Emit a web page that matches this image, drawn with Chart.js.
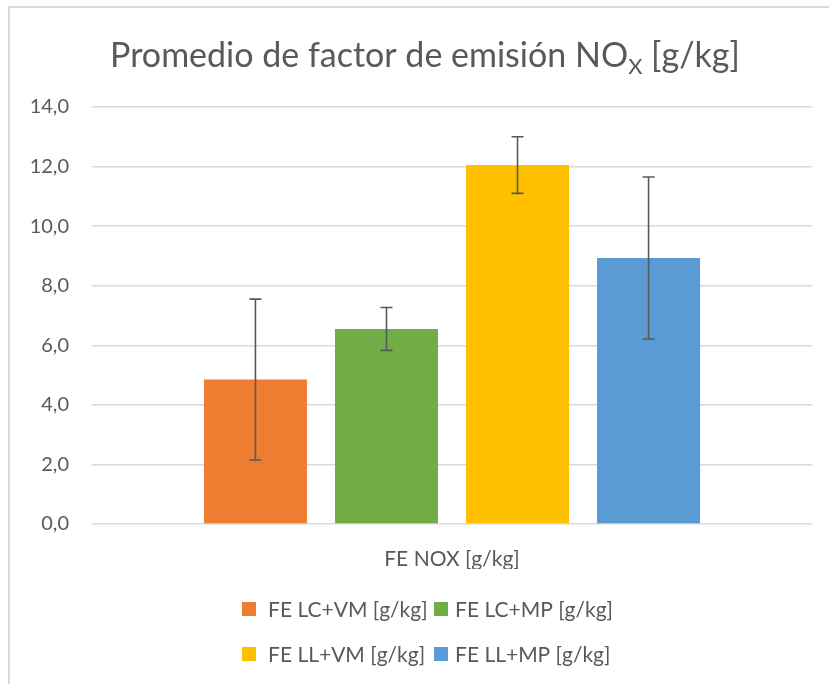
<!DOCTYPE html>
<html>
<head>
<meta charset="utf-8">
<script src="https://cdn.jsdelivr.net/npm/chart.js@4.4.0/dist/chart.umd.min.js"></script>
<style>
  html, body { margin: 0; padding: 0; background: #fff; overflow: hidden; }
  .frame { position: absolute; left: 8px; top: 6px; width: 900px; height: 800px; border: 2px solid #d9d9d9; }
  .wrap { position: absolute; left: 0; top: 0; width: 829px; height: 684px; }
</style>
</head>
<body>
<div class="frame"></div>
<div class="wrap"><canvas id="chart" width="829" height="684"></canvas></div>
<script>
// data
const categories = ["FE NOX [g/kg]"];
const seriesNames = ["FE LC+VM [g/kg]", "FE LC+MP [g/kg]", "FE LL+VM [g/kg]", "FE LL+MP [g/kg]"];
const lcVm = [4.85];
const lcMp = [6.55];
const llVm = [12.05];
const llMp = [8.93];
const errLcVm = [2.70];
const errLcMp = [0.72];
const errLlVm = [0.95];
const errLlMp = [2.72];
const yTicks = [0, 2, 4, 6, 8, 10, 12, 14];

const seriesColors = ["#ED7D31", "#70AD47", "#FFC000", "#5B9BD5"];
const textColor = "#595959";
const fontFamily = "Lato, 'Noto Sans', sans-serif";

const values = [lcVm, lcMp, llVm, llMp];
const errors = [errLcVm, errLcMp, errLlVm, errLlMp];

const fmt = (v) => v.toFixed(1).replace(".", ",");

// title with subscript X
const titlePlugin = {
  id: "titleSub",
  afterDraw(chart) {
    const ctx = chart.ctx;
    const big = "34px " + fontFamily;
    const small = "22px " + fontFamily;
    const p1 = "Promedio de factor de emisión NO";
    const p2 = "X";
    const p3 = " [g/kg]";
    ctx.save();
    ctx.fillStyle = textColor;
    ctx.textBaseline = "alphabetic";
    ctx.textAlign = "left";
    ctx.font = big;
    const w1 = ctx.measureText(p1).width;
    const w3 = ctx.measureText(p3).width;
    ctx.font = small;
    const w2 = ctx.measureText(p2).width;
    let x = 425 - (w1 + w2 + w3) / 2;
    const y = 67;
    ctx.font = big;
    ctx.fillText(p1, x, y);
    x += w1;
    ctx.font = small;
    ctx.fillText(p2, x, y + 7);
    x += w2;
    ctx.font = big;
    ctx.fillText(p3, x, y);
    ctx.restore();
  },
};

// error bars drawn through the y scale
const errorBarPlugin = {
  id: "errorBars",
  afterDatasetsDraw(chart) {
    const ctx = chart.ctx;
    const yScale = chart.scales.y;
    ctx.save();
    ctx.strokeStyle = "#595959";
    ctx.lineWidth = 1.6;
    chart.data.datasets.forEach((ds, i) => {
      const meta = chart.getDatasetMeta(i);
      meta.data.forEach((bar, j) => {
        const v = ds.data[j];
        const e = errors[i][j];
        const top = yScale.getPixelForValue(v + e);
        const bottom = yScale.getPixelForValue(v - e);
        const cap = 6;
        ctx.beginPath();
        ctx.moveTo(bar.x, top);
        ctx.lineTo(bar.x, bottom);
        ctx.moveTo(bar.x - cap, top);
        ctx.lineTo(bar.x + cap, top);
        ctx.moveTo(bar.x - cap, bottom);
        ctx.lineTo(bar.x + cap, bottom);
        ctx.stroke();
      });
    });
    ctx.restore();
  },
};

// legend in two rows of two
const gridLegendPlugin = {
  id: "gridLegend",
  afterDraw(chart) {
    const ctx = chart.ctx;
    const area = chart.chartArea;
    const center = (area.left + area.right) / 2;
    const cols = [center - 210, center - 18];
    const rows = [609, 654];
    const box = 14;
    ctx.save();
    ctx.font = "21px " + fontFamily;
    ctx.textBaseline = "middle";
    ctx.textAlign = "left";
    chart.data.datasets.forEach((ds, i) => {
      const x = cols[i % 2];
      const y = rows[Math.floor(i / 2)];
      ctx.fillStyle = ds.backgroundColor;
      ctx.fillRect(x, y - box / 2, box, box);
      ctx.fillStyle = textColor;
      ctx.fillText(ds.label, x + box + (i % 2 === 0 ? 12 : 7), y + 1);
    });
    ctx.restore();
  },
};

const data = {
  labels: categories,
  datasets: seriesNames.map((name, i) => ({
    label: name,
    data: values[i],
    backgroundColor: seriesColors[i],
    borderWidth: 0,
    categoryPercentage: 0.728,
    barPercentage: 0.786,
  })),
};

const config = {
  type: "bar",
  data: data,
  options: {
    responsive: false,
    animation: false,
    layout: {
      padding: { top: 107, left: 10, right: 17, bottom: 115 },
    },
    plugins: {
      legend: { display: false },
      title: { display: false },
      tooltip: { enabled: false },
    },
    scales: {
      x: {
        grid: { display: false },
        border: { display: false },
        ticks: {
          color: textColor,
          font: { family: fontFamily, size: 21 },
          padding: 15,
        },
        afterFit: (s) => { s.height = 45; },
      },
      y: {
        min: 0,
        max: 14,
        afterBuildTicks: (s) => { s.ticks = yTicks.map((v) => ({ value: v })); },
        grid: { color: "#d9d9d9", lineWidth: 1.5, drawTicks: false },
        border: { display: false },
        ticks: {
          color: textColor,
          font: { family: fontFamily, size: 20 },
          padding: 23,
          callback: (v) => fmt(v),
        },
        afterFit: (s) => { s.width = 82; },
      },
    },
  },
  plugins: [titlePlugin, errorBarPlugin, gridLegendPlugin],
};

const ctx = document.getElementById("chart").getContext("2d");
const noxChart = new Chart(ctx, config);
</script>
</body>
</html>
